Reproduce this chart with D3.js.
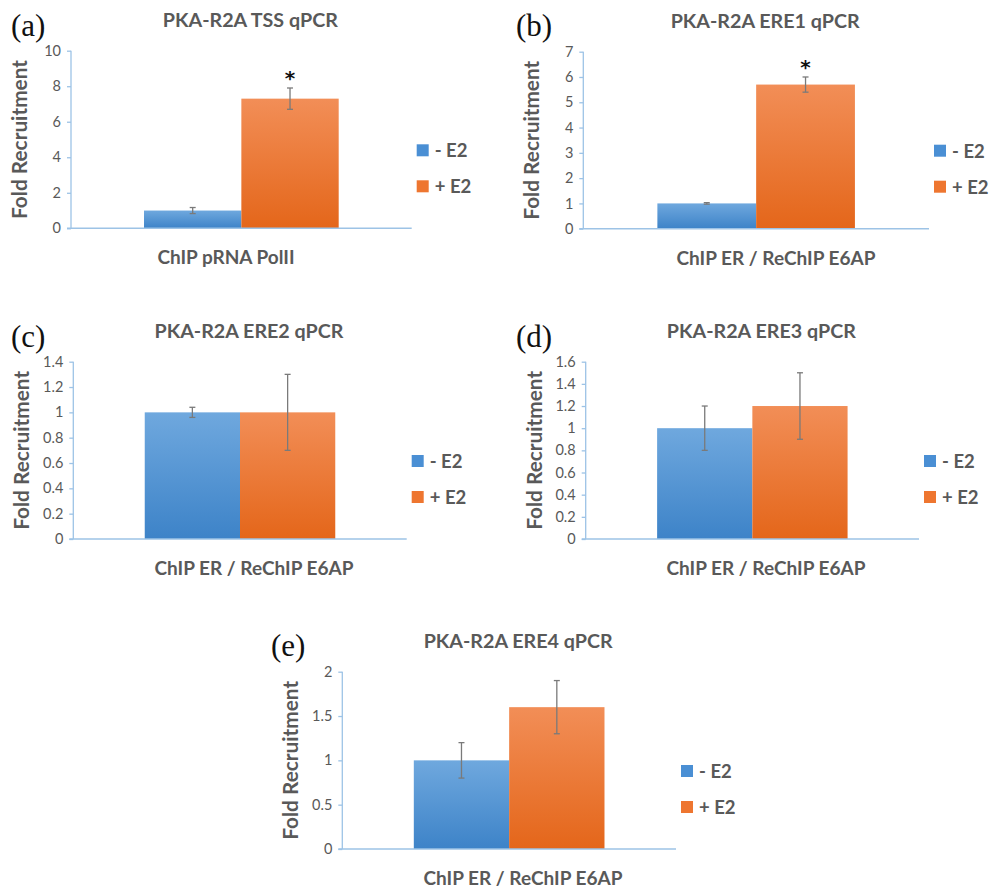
<!DOCTYPE html>
<html><head><meta charset="utf-8">
<script src="https://cdn.jsdelivr.net/npm/d3@7"></script>
<style>body{margin:0;background:#fff}svg{display:block}</style>
</head><body>
<script>
// ---- data ----
const panelTags = ["(a)", "(b)", "(c)", "(d)", "(e)"];
const titles = ["PKA-R2A TSS qPCR", "PKA-R2A ERE1 qPCR", "PKA-R2A ERE2 qPCR", "PKA-R2A ERE3 qPCR", "PKA-R2A ERE4 qPCR"];
const categories = ["ChIP pRNA PolII", "ChIP ER / ReChIP E6AP", "ChIP ER / ReChIP E6AP", "ChIP ER / ReChIP E6AP", "ChIP ER / ReChIP E6AP"];
const seriesNames = ["- E2", "+ E2"];
const minusE2 = [1, 1, 1, 1, 1];
const plusE2 = [7.3, 5.7, 1.0, 1.2, 1.6];
const minusErr = [0.17, 0.03, 0.04, 0.2, 0.2];
const plusErr = [0.6, 0.3, 0.3, 0.3, 0.3];
const yMax = [10, 7, 1.4, 1.6, 2];
const yStep = [2, 1, 0.2, 0.2, 0.5];
const significance = [["", "*"], ["", "*"], ["", ""], ["", ""], ["", ""]];

// ---- layout ----
const layout = [
  {ax: 71,    top: 50.7,  y0: 228.3, xEnd: 411.7, catX: 226, tagX: 11,  tagY: 36},
  {ax: 583.3, top: 51.7,  y0: 228.7, xEnd: 929,   catX: 776, tagX: 516, tagY: 36},
  {ax: 73.3,  top: 361.7, y0: 539,   xEnd: 406.7, catX: 254, tagX: 11,  tagY: 347},
  {ax: 585.7, top: 361.7, y0: 539,   xEnd: 919,   catX: 766, tagX: 516, tagY: 347},
  {ax: 342.3, top: 671.7, y0: 849,   xEnd: 676,   catX: 523, tagX: 271, tagY: 656}
];
const textGray = "#595959";
const axisBlue = "#9dc3e6";
const font = "Lato, 'Open Sans', sans-serif";

const svg = d3.select("body").append("svg").attr("width", 1001).attr("height", 889);
const defs = svg.append("defs");
const grads = [["gBlue", "#6fa8de", "#3d83c8"], ["gOrange", "#f28e57", "#e4661a"]];
grads.forEach(([id, c1, c2]) => {
  const g = defs.append("linearGradient").attr("id", id).attr("x1", 0).attr("y1", 0).attr("x2", 0).attr("y2", 1);
  g.append("stop").attr("offset", "0%").attr("stop-color", c1);
  g.append("stop").attr("offset", "100%").attr("stop-color", c2);
});
const fills = ["url(#gBlue)", "url(#gOrange)"];
const legendFills = ["#4a8fd4", "#ee7630"];

panelTags.forEach((tag, i) => {
  const L = layout[i];
  const g = svg.append("g");
  const y = d3.scaleLinear().domain([0, yMax[i]]).range([L.y0, L.top]);
  const xCat = d3.scaleBand().domain([categories[i]]).range([L.ax, L.xEnd]).paddingInner(0).paddingOuter(0.375);
  const xSer = d3.scaleBand().domain(seriesNames).range([0, xCat.bandwidth()]).padding(0);
  const vals = [minusE2[i], plusE2[i]];
  const errs = [minusErr[i], plusErr[i]];

  // bars
  const bars = g.append("g").attr("transform", `translate(${xCat(categories[i])},0)`);
  seriesNames.forEach((s, k) => {
    bars.append("rect")
      .attr("x", xSer(s)).attr("y", y(vals[k]))
      .attr("width", xSer.bandwidth()).attr("height", y(0) - y(vals[k]))
      .attr("fill", fills[k]);
  });
  // error bars
  seriesNames.forEach((s, k) => {
    const cx = xSer(s) + xSer.bandwidth() / 2;
    const eb = bars.append("g").attr("stroke", "#7a7a7a").attr("stroke-width", 1.3);
    eb.append("line").attr("x1", cx).attr("x2", cx).attr("y1", y(vals[k] + errs[k])).attr("y2", y(vals[k] - errs[k]));
    [vals[k] + errs[k], vals[k] - errs[k]].forEach(v => {
      eb.append("line").attr("x1", cx - 3).attr("x2", cx + 3).attr("y1", y(v)).attr("y2", y(v));
    });
    if (significance[i][k]) {
      bars.append("text").attr("x", cx).attr("y", y(vals[k] + errs[k]) - 3)
        .attr("text-anchor", "middle").attr("font-family", "'DejaVu Sans', sans-serif")
        .attr("font-weight", "bold").attr("font-size", 20).attr("fill", "#111")
        .text(significance[i][k]);
    }
  });

  // y axis
  const ticks = d3.range(0, yMax[i] + yStep[i] / 2, yStep[i]).map(v => +v.toFixed(2));
  const yAxis = g.append("g").attr("transform", `translate(${L.ax},0)`)
    .call(d3.axisLeft(y).tickValues(ticks).tickSize(4).tickPadding(6).tickFormat(d => d3.format("~g")(d)));
  yAxis.select(".domain").attr("stroke", axisBlue).attr("stroke-width", 1.3).attr("d", `M0,${L.y0}V${L.top}`);
  yAxis.selectAll(".tick line").attr("stroke", axisBlue).attr("stroke-width", 1.3);
  yAxis.selectAll(".tick text").attr("fill", textGray).attr("font-family", font).attr("font-size", 14.5);

  // x axis line
  g.append("line").attr("x1", L.ax - 4).attr("x2", L.xEnd).attr("y1", L.y0).attr("y2", L.y0)
    .attr("stroke", axisBlue).attr("stroke-width", 1.5);

  // title
  g.append("text").attr("x", (L.ax + L.xEnd) / 2 + 9).attr("y", L.top - 24)
    .attr("text-anchor", "middle").attr("font-family", font).attr("font-weight", "bold")
    .attr("font-size", 19.7).attr("fill", textGray).text(titles[i]);
  // panel tag
  g.append("text").attr("x", L.tagX).attr("y", L.tagY)
    .attr("font-family", "'Liberation Serif', serif").attr("font-size", 31).attr("fill", "#111").text(tag);
  // y label
  g.append("text").attr("transform", `translate(${L.ax - 44},${(L.top + L.y0) / 2}) rotate(-90)`)
    .attr("text-anchor", "middle").attr("font-family", font).attr("font-weight", "bold")
    .attr("font-size", 20.8).attr("fill", textGray).text("Fold Recruitment");
  // category label
  g.append("text").attr("x", L.catX).attr("y", L.y0 + 36)
    .attr("text-anchor", "middle").attr("font-family", font).attr("font-weight", "bold")
    .attr("font-size", 19).attr("fill", textGray).text(categories[i]);
  // legend
  const lg = g.append("g").attr("transform", `translate(${L.xEnd + 5},${L.y0 - 84})`);
  seriesNames.forEach((s, k) => {
    lg.append("rect").attr("x", 0).attr("y", k * 36).attr("width", 12).attr("height", 12).attr("fill", legendFills[k]);
    lg.append("text").attr("x", 18).attr("y", k * 36 + 13).attr("font-family", font).attr("font-weight", "bold")
      .attr("font-size", 18.5).attr("fill", textGray).text(s);
  });
});
</script>
</body></html>
